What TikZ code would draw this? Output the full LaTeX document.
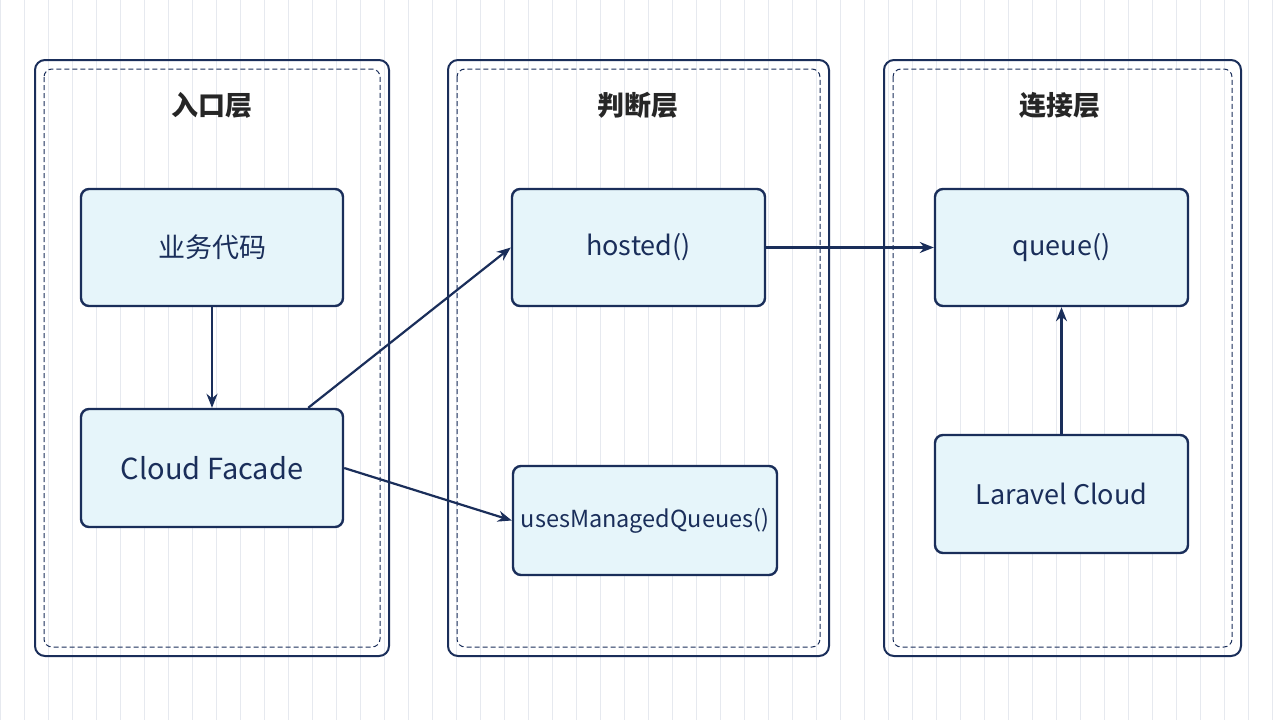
\documentclass[tikz,border=0pt]{standalone}
\usepackage{fontspec}
\setmainfont{Noto Sans CJK SC}
\usetikzlibrary{arrows.meta}
\definecolor{navy}{HTML}{1A2E5A}
\definecolor{boxfill}{HTML}{E6F5FA}
\definecolor{gridc}{HTML}{E6E9EF}
\begin{document}
\begin{tikzpicture}[x=1pt,y=-1pt,
  panel/.style={draw=navy,line width=2pt,rounded corners=10pt},
  inner/.style={draw=navy,dash pattern=on 5pt off 3pt,line width=1pt,rounded corners=8pt},
  box/.style={draw=navy,line width=2.4pt,rounded corners=8pt,fill=boxfill,font=\fontsize{27}{30}\selectfont,text=navy},
  title/.style={font=\fontsize{27}{30}\selectfont\bfseries,text=black!85},
  arr/.style={-{Stealth[length=14pt,width=11pt]},draw=navy,line width=2.2pt}]
\useasboundingbox (0,0) rectangle (1280,720);
\fill[white] (0,0) rectangle (1280,720);
\draw[gridc,line width=0.8pt,step=24] (0,0) grid (1280,720);
\draw[panel] (35,60) rectangle (389,656);
\draw[inner] (44,69) rectangle (380,647);
\draw[panel] (448,60) rectangle (829,656);
\draw[inner] (457,69) rectangle (820,647);
\draw[panel] (884,60) rectangle (1241,656);
\draw[inner] (893,69) rectangle (1232,647);
\node[title] (t1) at (212,105) {入口层};
\node[title] (t2) at (638,105) {判断层};
\node[title] (t3) at (1060,105) {连接层};
\node[box,minimum width=262,minimum height=117] (biz) at (212,247.5) {业务代码};
\node[box,minimum width=262,minimum height=118,font=\fontsize{29}{32}\selectfont] (cf) at (212,468) {Cloud Facade};
\node[box,minimum width=253,minimum height=117] (hosted) at (638.5,247.5) {hosted()};
\node[box,minimum width=264,minimum height=109,inner sep=1pt,font=\fontsize{23.5}{26}\selectfont] (umq) at (645,520.5) {usesManagedQueues()};
\node[box,minimum width=253,minimum height=117] (queue) at (1061.5,247.5) {queue()};
\node[box,minimum width=253,minimum height=118] (lc) at (1061.5,494) {Laravel Cloud};
\draw[arr] (biz) -- (cf);
\draw[arr] (cf.north east) ++(-36,0) coordinate (s1) (s1) -- (hosted.west);
\draw[arr] (cf.east) -- (umq.west);
\draw[arr] (hosted.east) -- (queue.west);
\draw[arr] (lc) -- (queue);
\end{tikzpicture}
\end{document}
